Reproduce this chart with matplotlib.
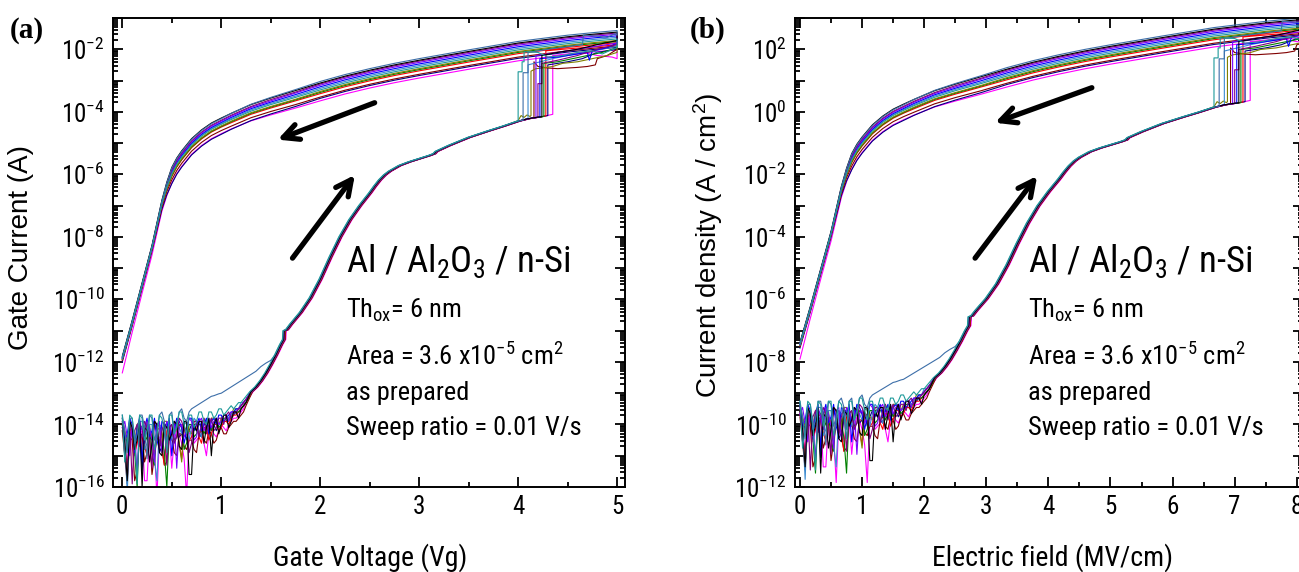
import matplotlib
matplotlib.use('Agg')
import numpy as np
import matplotlib.pyplot as plt
from matplotlib import font_manager as fm
from matplotlib.ticker import LogLocator, FuncFormatter, MultipleLocator, NullFormatter

_names = {f.name for f in fm.fontManager.ttflist}
NARROW = next((n for n in ['Liberation Sans Narrow', 'Roboto Condensed', 'Open Sans Condensed']
               if n in _names), 'Liberation Sans')
REG = 'Liberation Sans' if 'Liberation Sans' in _names else 'DejaVu Sans'
SERIF = 'Liberation Serif' if 'Liberation Serif' in _names else 'DejaVu Serif'

plt.rcParams['font.family'] = [NARROW, 'DejaVu Sans']
plt.rcParams['mathtext.fontset'] = 'custom'
plt.rcParams['mathtext.rm'] = NARROW
plt.rcParams['mathtext.it'] = NARROW
plt.rcParams['mathtext.bf'] = NARROW
plt.rcParams['mathtext.default'] = 'regular'

# ---------------- data (log10 of gate current in A, voltage in V) ----------------
CURVES = ['magenta', 'navy', 'maroon', 'red', 'green', 'olive', 'royal', 'blue',
          'violet', 'purple', 'black', 'steelblue', 'teal']
COLORS = {'steelblue': '#3C6EA8', 'black': '#000000', 'purple': '#800080', 'violet': '#7B00FF',
          'blue': '#0000FF', 'royal': '#3A8AD0', 'teal': '#1E9A9A', 'olive': '#808000',
          'green': '#008000', 'red': '#FF0000', 'maroon': '#800000', 'navy': '#000080',
          'magenta': '#FF00FF'}

NOISE_V = [0.0, 0.025, 0.05, 0.075, 0.10, 0.125, 0.15, 0.175, 0.20, 0.225, 0.25, 0.275, 0.30,
           0.325, 0.35, 0.375, 0.40, 0.425, 0.45, 0.475, 0.50, 0.525, 0.55, 0.575, 0.60, 0.625,
           0.65, 0.675, 0.70, 0.725, 0.75, 0.775, 0.80, 0.825, 0.85, 0.875, 0.90, 0.925, 0.95,
           0.975, 1.00, 1.025, 1.05, 1.075, 1.10, 1.125, 1.15, 1.175, 1.20, 1.225, 1.25]
NOISE_LOG = {
    'steelblue': [-13.7, -14.2, -14.9, -13.8, -13.8, -14.6, -14.3, -13.7, -13.7, -14.1,
                  -15.1, -13.7, -13.8, -14.5, -14.2, -13.7, -13.6, -13.9, -14.6, -13.7,
                  -13.6, -14.3, -14.0, -13.6, -13.5, -13.8, -13.9, -13.6, -13.5, -13.45,
                  -13.4, -13.35, -13.3, -13.25, -13.2, -13.15, -13.1, -13.08, -13.05, -13.02,
                  -13.0, -12.95, -12.9, -12.85, -12.8, -12.75, -12.7, -12.65, -12.6, -12.55, -12.5],
    'black': [-14.0, -14.6, -15.8, -13.9, -14.1, -14.8, -14.5, -13.9, -16.0, -14.1,
              -14.2, -15.2, -14.6, -13.9, -14.0, -14.9, -15.0, -14.0, -14.1, -14.5,
              -14.3, -13.9, -14.0, -14.7, -14.8, -13.9, -13.9, -15.6, -15.6, -14.0,
              -14.2, -13.9, -13.9, -14.6, -14.1, -13.8, -15.0, -14.0, -13.8, -14.3,
              -14.0, -13.7, -13.7, -14.1, -13.9, -13.6, -13.6, -13.8, -13.5, -13.4, -13.3],
    'purple': [-13.9, -15.0, -14.6, -13.9, -15.9, -14.2, -14.0, -14.7, -14.3, -13.9,
               -14.1, -14.5, -15.4, -13.9, -14.0, -14.8, -14.2, -13.9, -15.3, -14.1,
               -14.0, -14.6, -14.4, -13.8, -13.9, -14.2, -14.1, -14.9, -14.6, -13.9,
               -13.9, -14.4, -14.0, -13.8, -14.3, -14.0, -13.8, -14.2, -14.1, -13.8,
               -13.8, -14.0, -13.7, -13.6, -13.8, -13.6, -13.6, -13.5, -13.4, -13.3, -13.2],
    'violet': [-14.1, -13.9, -14.4, -15.0, -14.0, -14.3, -15.6, -13.9, -14.2, -14.6,
               -13.9, -14.1, -14.5, -15.2, -14.0, -13.9, -14.9, -14.3, -13.9, -14.0,
               -14.3, -13.9, -15.4, -14.1, -14.0, -14.4, -14.2, -13.8, -13.9, -14.5,
               -14.4, -13.9, -13.8, -14.2, -14.0, -13.8, -14.1, -13.9, -13.8, -14.0,
               -13.9, -13.7, -13.7, -13.9, -13.6, -13.6, -13.6, -13.5, -13.4, -13.3, -13.2],
    'blue': [-13.8, -14.5, -14.3, -13.8, -14.0, -14.9, -14.1, -13.8, -15.2, -14.1,
             -13.8, -14.4, -14.2, -13.8, -14.5, -14.8, -13.9, -14.0, -14.1, -13.8,
             -15.0, -14.2, -13.8, -13.9, -14.1, -14.6, -14.2, -13.8, -13.8, -14.2,
             -14.0, -13.8, -14.2, -14.0, -13.8, -14.3, -13.9, -13.8, -14.0, -13.7,
             -13.7, -13.9, -13.8, -13.7, -13.6, -13.6, -13.5, -13.5, -13.4, -13.3, -13.2],
    'royal': [-13.9, -14.5, -16.2, -14.0, -14.0, -14.4, -14.3, -13.9, -13.9, -14.8,
              -14.6, -14.0, -14.0, -15.1, -15.8, -14.0, -14.1, -14.3, -14.0, -13.9,
              -14.5, -14.2, -13.9, -14.1, -14.3, -13.9, -14.0, -14.5, -14.1, -13.8,
              -13.9, -14.2, -14.4, -13.9, -13.9, -14.1, -13.9, -13.8, -13.8, -14.0,
              -13.9, -13.7, -13.7, -13.8, -13.7, -13.6, -13.5, -13.5, -13.3, -13.3, -13.2],
    'teal': [-13.7, -15.2, -14.6, -13.7, -13.8, -14.4, -15.9, -13.7, -13.8, -14.5,
             -14.2, -13.7, -13.7, -14.8, -14.4, -13.7, -13.8, -14.2, -14.9, -13.7,
             -13.7, -14.3, -14.1, -13.6, -13.6, -14.0, -14.3, -13.7, -13.7, -14.1,
             -13.9, -13.6, -13.6, -13.9, -14.0, -13.6, -13.6, -13.8, -13.7, -13.5,
             -13.5, -13.7, -13.6, -13.5, -13.4, -13.5, -13.4, -13.3, -13.3, -13.2, -13.1],
    'olive': [-13.8, -14.2, -14.5, -13.9, -14.1, -14.6, -14.0, -13.9, -15.1, -14.2,
              -13.9, -14.4, -14.3, -13.9, -14.0, -14.7, -14.6, -13.9, -13.9, -14.4,
              -14.2, -13.9, -14.0, -14.6, -15.2, -14.0, -13.9, -14.2, -14.3, -13.9,
              -13.9, -14.3, -14.1, -13.8, -14.0, -14.2, -13.8, -13.8, -13.9, -14.0,
              -13.8, -13.7, -13.7, -13.8, -13.7, -13.5, -13.5, -13.5, -13.4, -13.3, -13.2],
    'green': [-14.0, -14.3, -14.7, -14.0, -14.2, -14.9, -16.0, -14.0, -14.1, -14.6,
              -14.4, -14.0, -14.9, -15.3, -14.1, -14.0, -14.3, -14.9, -16.0, -14.1,
              -14.0, -14.5, -14.4, -14.0, -14.1, -14.8, -14.6, -14.0, -14.0, -14.4,
              -14.3, -14.0, -14.0, -14.3, -14.1, -13.9, -14.2, -14.0, -13.9, -14.1,
              -14.0, -13.8, -13.8, -13.9, -13.7, -13.6, -13.6, -13.6, -13.5, -13.4, -13.3],
    'red': [-14.0, -14.4, -15.8, -14.1, -14.3, -14.9, -14.6, -14.2, -14.1, -14.7,
            -15.0, -14.2, -14.4, -14.9, -14.2, -14.1, -14.8, -15.3, -14.2, -14.2,
            -14.5, -14.1, -14.1, -14.6, -15.1, -14.1, -14.2, -14.5, -14.4, -14.0,
            -14.0, -14.4, -14.6, -14.1, -14.1, -14.5, -14.3, -14.0, -14.0, -14.2,
            -14.1, -13.9, -13.9, -14.0, -13.8, -13.7, -13.7, -13.6, -13.5, -13.4, -13.3],
    'maroon': [-14.2, -15.0, -15.9, -14.4, -14.5, -15.8, -15.5, -14.4, -14.3, -15.2,
               -14.9, -14.3, -15.6, -15.0, -14.4, -14.5, -14.7, -15.3, -15.2, -14.4,
               -14.4, -14.9, -15.0, -14.3, -14.3, -14.7, -14.8, -14.5, -14.5, -14.8,
               -14.9, -14.3, -14.2, -14.5, -14.6, -14.2, -14.3, -14.6, -14.5, -14.2,
               -14.1, -14.3, -14.3, -14.1, -14.0, -13.9, -13.9, -13.8, -13.7, -13.6, -13.4],
    'navy': [-14.0, -14.3, -14.6, -14.0, -14.2, -14.6, -14.4, -14.0, -15.5, -14.3,
             -14.1, -14.4, -14.5, -14.0, -14.2, -14.9, -14.7, -14.0, -14.0, -14.3,
             -14.4, -14.0, -14.1, -14.4, -14.3, -14.1, -14.5, -14.2, -14.0, -14.1,
             -14.2, -14.3, -14.4, -14.0, -14.0, -14.2, -14.1, -14.0, -14.2, -14.0,
             -13.9, -13.9, -13.9, -13.8, -13.8, -13.7, -13.6, -13.6, -13.5, -13.4, -13.3],
    'magenta': [-14.1, -14.6, -15.3, -14.2, -14.4, -15.0, -14.6, -14.3, -14.2, -15.8,
                -15.8, -14.3, -14.3, -14.8, -16.3, -14.4, -14.4, -15.0, -14.5, -14.3,
                -15.4, -14.5, -14.2, -14.3, -14.6, -15.1, -16.3, -14.3, -14.2, -14.6,
                -14.5, -14.4, -14.3, -14.6, -15.0, -14.3, -14.1, -14.3, -14.4, -14.2,
                -14.0, -14.1, -14.2, -14.0, -13.9, -13.8, -13.8, -13.7, -13.6, -13.5, -13.3],
}
# steel-blue curve leaves the noise floor early
STEEL_EXTRA_V = [1.30, 1.35, 1.40, 1.45, 1.50]
STEEL_EXTRA_LOG = [-12.4, -12.3, -12.15, -12.04, -11.95]

# common forward (low -> high) sweep before breakdown
BASE_V = [1.3, 1.35, 1.4, 1.45, 1.5, 1.55, 1.6, 1.63, 1.635, 1.66, 1.7, 1.8, 1.9, 2.0, 2.1, 2.2, 2.3,
          2.4, 2.45, 2.5, 2.55, 2.6, 2.65, 2.7, 2.8, 2.9, 3.0, 3.1, 3.15, 3.17, 3.3, 3.5, 3.7, 3.85,
          4.0, 4.1, 4.2, 4.3, 4.35]
BASE_LOG = [-12.95, -12.8, -12.6, -12.36, -12.08, -11.78, -11.45, -11.28, -11.0, -10.97, -10.8, -10.42,
            -9.95, -9.35, -8.65, -8.0, -7.45, -7.0, -6.8, -6.6, -6.38, -6.18, -6.02, -5.9, -5.72, -5.6,
            -5.5, -5.4, -5.34, -5.27, -5.08, -4.82, -4.61, -4.46, -4.3, -4.22, -4.17, -4.1, -4.06]
FWD_SHIFT = {'teal': -0.012, 'steelblue': -0.008, 'royal': -0.005, 'blue': 0.0, 'black': 0.0,
             'purple': 0.003, 'violet': 0.005, 'olive': 0.005, 'green': 0.008, 'red': 0.012,
             'maroon': 0.015, 'navy': 0.015, 'magenta': 0.022}

# breakdown and post-breakdown forward sweep
BD_V = {
    'teal': [4.0, 4.0, 4.04, 4.04, 4.06, 4.06, 4.2, 4.3, 4.45, 4.6, 4.75, 4.85, 4.92, 5.0],
    'steelblue': [4.05, 4.05, 4.1, 4.1, 4.3, 4.5, 4.65, 4.66, 4.8, 4.9, 4.98, 5.0],
    'olive': [4.0, 4.03, 4.06, 4.09, 4.12, 4.13, 4.13, 4.18, 4.25, 4.35, 4.45, 4.6, 4.75, 4.9, 5.0],
    'royal': [4.1, 4.1, 4.2, 4.35, 4.5, 4.7, 4.85, 5.0],
    'maroon': [4.16, 4.16, 4.2, 4.3, 4.4, 4.5, 4.6, 4.7, 4.78, 4.8, 4.9, 5.0],
    'violet': [4.18, 4.18, 4.3, 4.5, 4.7, 4.9, 5.0],
    'purple': [4.2, 4.2, 4.24, 4.24, 4.4, 4.6, 4.8, 5.0],
    'blue': [4.22, 4.22, 4.4, 4.6, 4.7, 4.72, 4.75, 4.9, 5.0],
    'black': [4.24, 4.24, 4.4, 4.6, 4.8, 5.0],
    'green': [4.26, 4.26, 4.4, 4.55, 4.7, 4.85, 5.0],
    'red': [4.28, 4.28, 4.45, 4.65, 4.85, 5.0],
    'navy': [4.3, 4.3, 4.5, 4.65, 4.8, 5.0],
    'magenta': [4.35, 4.35, 4.5, 4.65, 4.8, 4.95, 5.0, 5.0],
}
BD_LOG = {
    'teal': [-4.3, -2.72, -2.72, -2.4, -2.4, -2.08, -2.1, -2.25, -2.2, -2.1, -2.05, -2.15, -2.05, -1.95],
    'steelblue': [-4.27, -2.75, -2.75, -2.1, -2.0, -1.92, -1.85, -1.55, -1.58, -1.62, -1.5, -1.55],
    'olive': [-4.28, -4.12, -4.18, -4.1, -4.15, -4.12, -2.7, -2.62, -2.6, -2.55, -2.45, -2.4, -2.3, -2.2, -2.1],
    'royal': [-4.22, -2.5, -2.42, -2.3, -2.2, -2.1, -2.0, -1.9],
    'maroon': [-4.2, -2.4, -2.55, -2.6, -2.62, -2.6, -2.58, -2.55, -2.5, -2.3, -2.2, -2.0],
    'violet': [-4.19, -2.2, -2.15, -2.05, -1.95, -1.85, -1.8],
    'purple': [-4.18, -3.1, -3.1, -2.45, -2.35, -2.2, -2.0, -1.85],
    'blue': [-4.17, -2.3, -2.25, -2.15, -2.1, -2.35, -2.05, -1.95, -1.8],
    'black': [-4.16, -2.2, -2.1, -2.0, -1.85, -1.72],
    'green': [-4.15, -2.45, -2.4, -2.3, -2.2, -2.1, -1.95],
    'red': [-4.13, -2.05, -2.0, -1.95, -1.9, -1.85],
    'navy': [-4.12, -2.5, -2.4, -2.3, -2.1, -2.0],
    'magenta': [-4.08, -2.2, -2.15, -2.1, -2.2, -2.25, -2.3, -2.05],
}

# reverse (high -> low) sweep after breakdown
REV_V = [5.0, 4.75, 4.5, 4.25, 4.0, 3.5, 3.0, 2.75, 2.5, 2.25, 2.0, 1.75, 1.5, 1.3, 1.1, 1.0, 0.9,
         0.8, 0.7, 0.6, 0.55, 0.5, 0.45, 0.4, 0.3, 0.2, 0.1, 0.0]
REV_LOG = {
    'steelblue': [-1.40, -1.47, -1.55, -1.65, -1.75, -2.02, -2.30, -2.45, -2.62, -2.81, -3.03, -3.29, -3.54,
                  -3.76, -4.05, -4.22, -4.38, -4.60, -4.88, -5.27, -5.50, -5.80, -6.27, -6.85, -8.30, -9.50,
                  -10.70, -11.85],
    'black': [-1.45, -1.52, -1.60, -1.70, -1.80, -2.07, -2.35, -2.50, -2.67, -2.86, -3.08, -3.32, -3.56,
              -3.77, -4.05, -4.20, -4.36, -4.58, -4.86, -5.25, -5.48, -5.78, -6.25, -6.83, -8.27, -9.47,
              -10.67, -11.82],
    'purple': [-1.48, -1.55, -1.63, -1.73, -1.83, -2.10, -2.38, -2.53, -2.70, -2.89, -3.11, -3.37, -3.61,
               -3.83, -4.11, -4.27, -4.43, -4.65, -4.93, -5.32, -5.55, -5.85, -6.31, -6.88, -8.31, -9.51,
               -10.71, -11.86],
    'violet': [-1.52, -1.59, -1.67, -1.77, -1.87, -2.14, -2.42, -2.57, -2.74, -2.93, -3.15, -3.40, -3.65,
               -3.86, -4.14, -4.30, -4.46, -4.68, -4.96, -5.35, -5.58, -5.88, -6.34, -6.90, -8.33, -9.53,
               -10.73, -11.88],
    'blue': [-1.57, -1.64, -1.72, -1.82, -1.92, -2.19, -2.47, -2.62, -2.79, -2.98, -3.20, -3.45, -3.69,
             -3.90, -4.18, -4.34, -4.50, -4.72, -5.00, -5.39, -5.62, -5.92, -6.36, -6.91, -8.32, -9.52,
             -10.72, -11.87],
    'royal': [-1.62, -1.69, -1.77, -1.87, -1.97, -2.24, -2.52, -2.67, -2.84, -3.03, -3.25, -3.50, -3.73,
              -3.94, -4.22, -4.37, -4.53, -4.75, -5.03, -5.42, -5.65, -5.95, -6.39, -6.94, -8.35, -9.55,
              -10.75, -11.90],
    'teal': [-1.67, -1.74, -1.82, -1.92, -2.02, -2.29, -2.57, -2.72, -2.89, -3.08, -3.30, -3.54, -3.77,
             -3.98, -4.25, -4.40, -4.56, -4.78, -5.06, -5.45, -5.68, -5.98, -6.40, -6.93, -8.33, -9.53,
             -10.73, -11.88],
    'olive': [-1.72, -1.79, -1.87, -1.97, -2.07, -2.34, -2.62, -2.77, -2.94, -3.13, -3.35, -3.60, -3.83,
              -4.03, -4.30, -4.45, -4.61, -4.83, -5.11, -5.50, -5.73, -6.03, -6.45, -6.97, -8.37, -9.57,
              -10.77, -11.92],
    'green': [-1.75, -1.82, -1.90, -2.00, -2.10, -2.37, -2.65, -2.80, -2.97, -3.16, -3.38, -3.62, -3.85,
              -4.05, -4.32, -4.47, -4.63, -4.85, -5.13, -5.52, -5.75, -6.05, -6.45, -6.97, -8.36, -9.56,
              -10.76, -11.91],
    'red': [-1.79, -1.86, -1.94, -2.04, -2.14, -2.41, -2.69, -2.84, -3.01, -3.20, -3.42, -3.65, -3.88,
            -4.08, -4.35, -4.49, -4.65, -4.87, -5.15, -5.54, -5.77, -6.07, -6.47, -6.99, -8.38, -9.58,
            -10.78, -11.93],
    'maroon': [-1.90, -1.97, -2.05, -2.15, -2.25, -2.52, -2.80, -2.95, -3.12, -3.31, -3.53, -3.77, -3.99,
               -4.19, -4.46, -4.60, -4.76, -4.98, -5.26, -5.65, -5.88, -6.18, -6.55, -7.05, -8.40, -9.60,
               -10.80, -11.95],
    'navy': [-1.94, -2.01, -2.09, -2.19, -2.29, -2.56, -2.84, -2.99, -3.16, -3.35, -3.57, -3.83, -4.07,
             -4.28, -4.56, -4.72, -4.88, -5.10, -5.38, -5.77, -6.00, -6.30, -6.65, -7.12, -8.45, -9.65,
             -10.85, -12.00],
    'magenta': [-2.02, -2.09, -2.17, -2.27, -2.37, -2.64, -2.92, -3.07, -3.24, -3.43, -3.65, -3.88, -4.10,
                -4.29, -4.55, -4.70, -4.86, -5.08, -5.36, -5.75, -5.98, -6.28, -6.68, -7.18, -8.58, -9.80,
                -11.05, -12.35],
}

THICKNESS_NM = 6.0      # oxide thickness
AREA_CM2 = 3.6e-5       # device area

# ---------------- figure ----------------
W, H = 1299, 572
fig = plt.figure(figsize=(W / 100, H / 100), dpi=100)


def px_axes(l, r, t, b):
    return fig.add_axes([l / W, (H - b) / H, (r - l) / W, (b - t) / H])


axA = px_axes(113, 625, 18, 487)
axB = px_axes(795, 1303, 18, 487)


def curve_path(c):
    v = list(NOISE_V)
    lg = list(NOISE_LOG[c])
    n = min(len(v), len(lg))
    v, lg = v[:n], lg[:n]
    start = 1.25
    if c == 'steelblue':
        v += STEEL_EXTRA_V
        lg += STEEL_EXTRA_LOG
        start = 1.5
    vbd = BD_V[c][0]
    for bv, bl in zip(BASE_V, BASE_LOG):
        bvs = bv + FWD_SHIFT[c]
        if start < bv and bvs < vbd:
            v.append(bvs)
            lg.append(bl)
    v += BD_V[c]
    lg += BD_LOG[c]
    v += REV_V
    lg += REV_LOG[c]
    return np.array(v), 10.0 ** np.array(lg)


def exp_fmt(val, pos):
    e = int(round(np.log10(val)))
    if e % 2:
        return ''
    return r'$\mathregular{10^{%d}}$' % e


def style_axes(ax, xlim, ylim):
    ax.set_yscale('log')
    ax.set_xlim(*xlim)
    ax.set_ylim(*ylim)
    ax.xaxis.set_major_locator(MultipleLocator(1))
    ax.xaxis.set_minor_locator(MultipleLocator(0.5))
    ax.yaxis.set_major_locator(LogLocator(base=10, subs=(1.0,), numticks=40))
    ax.yaxis.set_minor_locator(LogLocator(base=10, subs=np.arange(2, 10), numticks=40))
    ax.yaxis.set_major_formatter(FuncFormatter(exp_fmt))
    ax.yaxis.set_minor_formatter(NullFormatter())
    ax.tick_params(which='both', direction='in', top=True, right=True, width=1.3, labelsize=18)
    ax.tick_params(which='major', length=7, pad=6)
    ax.tick_params(which='minor', length=3.5)
    for s in ax.spines.values():
        s.set_linewidth(1.4)


for c in CURVES:
    v, i = curve_path(c)
    axA.plot(v, i, color=COLORS[c], lw=0.8)
    axB.plot(v / (THICKNESS_NM * 0.1), i / AREA_CM2, color=COLORS[c], lw=0.8)

style_axes(axA, (-0.094, 5.08), (1e-16, 1e-1))
style_axes(axB, (-0.08, 8.1), (1e-12, 1e3))

arrow_kw = dict(arrowstyle='->', lw=3.8, color='black', mutation_scale=28, shrinkA=0, shrinkB=0)
axA.annotate('', xy=(1.57, 10 ** -4.89), xytext=(2.55, 10 ** -3.71), arrowprops=arrow_kw)
axA.annotate('', xy=(2.35, 10 ** -6.02), xytext=(1.72, 10 ** -8.68), arrowprops=arrow_kw)
axB.annotate('', xy=(3.14, 10 ** -0.35), xytext=(4.70, 10 ** 0.77), arrowprops=arrow_kw)
axB.annotate('', xy=(3.82, 10 ** -2.05), xytext=(2.82, 10 ** -4.68), arrowprops=arrow_kw)

TEXT_Y = [0.4584, 0.3603, 0.2601, 0.1855, 0.1109]
for ax, xf in ((axA, 0.455), (axB, 0.459)):
    ax.text(xf, TEXT_Y[0], r'Al / Al$_2$O$_3$ / n-Si', transform=ax.transAxes, fontsize=26.5, va='baseline')
    ax.text(xf, TEXT_Y[1], r'Th$_{ox}$= 6 nm', transform=ax.transAxes, fontsize=19, va='baseline')
    ax.text(xf, TEXT_Y[2], r'Area = 3.6 x10$^{-5}$ cm$^2$', transform=ax.transAxes, fontsize=19, va='baseline')
    ax.text(xf, TEXT_Y[3], 'as prepared', transform=ax.transAxes, fontsize=19, va='baseline')
    ax.text(xf, TEXT_Y[4], 'Sweep ratio = 0.01 V/s', transform=ax.transAxes, fontsize=19, va='baseline')

fig.text(370 / W, (H - 566) / H, 'Gate Voltage (Vg)', ha='center', va='baseline', fontsize=20)
fig.text(1052 / W, (H - 566) / H, 'Electric field (MV/cm)', ha='center', va='baseline', fontsize=20)
fig.text(21 / W, (H - 248) / H, 'Gate Current (A)', rotation=90, ha='center', va='center',
         fontsize=20, family=[REG, 'DejaVu Sans'])
fig.text(708 / W, (H - 245) / H, r'Current density (A / cm$^2$)', rotation=90, ha='center', va='center',
         fontsize=20, family=[REG, 'DejaVu Sans'])
fig.text(10 / W, (H - 38) / H, '(a)', fontsize=21, fontweight='bold', family=[SERIF], va='baseline')
fig.text(690 / W, (H - 38) / H, '(b)', fontsize=21, fontweight='bold', family=[SERIF], va='baseline')

fig.savefig('out.png', dpi=100)
